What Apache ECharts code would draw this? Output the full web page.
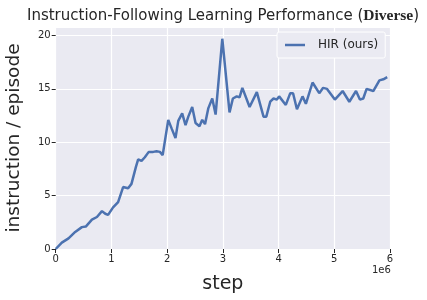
<!DOCTYPE html>
<html>
<head>
<meta charset="utf-8">
<script src="https://cdn.jsdelivr.net/npm/echarts@6/dist/echarts.min.js"></script>
<style>html,body{margin:0;padding:0;background:#fff}#c{width:427px;height:300px}</style>
</head>
<body>
<div id="c"></div>
<script>
// steps in millions
const stepsM = [0.00,0.11,0.23,0.35,0.47,0.54,0.65,0.74,0.83,0.89,0.94,1.03,1.12,1.21,1.30,1.36,1.44,1.48,1.54,1.60,1.67,1.75,1.81,1.87,1.92,2.02,2.08,2.15,2.20,2.27,2.33,2.38,2.45,2.51,2.58,2.63,2.68,2.74,2.81,2.87,2.99,3.12,3.18,3.25,3.30,3.35,3.48,3.61,3.73,3.78,3.85,3.91,3.97,4.01,4.13,4.21,4.26,4.33,4.43,4.49,4.61,4.73,4.80,4.87,5.01,5.15,5.27,5.39,5.46,5.52,5.58,5.70,5.81,5.88,5.95];
const hirValues = [0.0,0.6,1.0,1.6,2.05,2.1,2.75,3.0,3.55,3.3,3.2,3.9,4.4,5.8,5.7,6.1,7.7,8.4,8.25,8.6,9.1,9.1,9.15,9.1,8.8,12.1,11.3,10.4,12.0,12.7,11.6,12.4,13.3,11.8,11.5,12.1,11.7,13.2,14.1,12.6,19.7,12.8,14.1,14.3,14.2,15.1,13.3,14.7,12.4,12.4,13.8,14.1,14.0,14.3,13.5,14.6,14.6,13.1,14.3,13.6,15.6,14.6,15.1,15.0,14.0,14.8,13.8,14.8,14.0,14.1,15.0,14.8,15.8,15.9,16.1];
const xTicks = [0,1,2,3,4,5,6];
const yTicks = [0,5,10,15,20];
const seriesName = 'HIR (ours)';
const titleMain = 'Instruction-Following Learning Performance (';
const titleBold = 'Diverse';
const xLabel = 'step';
const yLabel = 'instruction / episode';
const xOffsetText = '1e6';

const chart = echarts.init(document.getElementById('c'), null, {renderer:'canvas'});
const data = stepsM.map((s,i)=>[s*1e6, hirValues[i]]);
const txt = '#262626';
chart.setOption({
  animation:false,
  backgroundColor:'#ffffff',
  grid:{left:55.7,right:37,top:27,bottom:51,show:true,backgroundColor:'#EAEAF2',borderWidth:0,containLabel:false,outerBoundsMode:'none'},
  legend:{
    data:[seriesName], left:277, top:32, orient:'horizontal', icon:'rect',
    padding:[7,7,7,8], itemWidth:20, itemHeight:2.5, itemGap:10,
    backgroundColor:'#EAEAF2', borderColor:'#ffffff', borderWidth:1, borderRadius:2,
    textStyle:{fontFamily:'DejaVu Sans',fontSize:12,color:txt,padding:[0,0,0,8]}
  },
  xAxis:{
    type:'value', min:xTicks[0]*1e6, max:xTicks[xTicks.length-1]*1e6, interval:1e6,
    name:xLabel, nameLocation:'middle', nameGap:26,
    nameTextStyle:{fontFamily:'DejaVu Sans',fontSize:19,color:txt},
    axisLine:{show:false},
    axisTick:{show:true,length:4,lineStyle:{color:txt,width:1}},
    axisLabel:{fontFamily:'DejaVu Sans',fontSize:10,color:txt,margin:5,formatter:v=>String(v/1e6)},
    splitLine:{show:true,lineStyle:{color:'#ffffff',width:1.2}}
  },
  yAxis:{
    type:'value', min:0, max:20.8, interval:5,
    name:yLabel, nameLocation:'middle', nameGap:32,
    nameTextStyle:{fontFamily:'DejaVu Sans',fontSize:18.5,color:txt},
    axisLine:{show:false},
    axisTick:{show:true,length:4,lineStyle:{color:txt,width:1}},
    axisLabel:{fontFamily:'DejaVu Sans',fontSize:10,color:txt,margin:5,showMaxLabel:false,
      formatter:v=>(yTicks.indexOf(v)>=0?String(v):'')},
    splitLine:{show:true,lineStyle:{color:'#ffffff',width:1.2}}
  },
  graphic:[
    {type:'text',x:223,y:16,style:{
      text:'{a|'+titleMain+'}{b|'+titleBold+'}{a|)}',
      align:'center',verticalAlign:'middle',
      rich:{
        a:{fontFamily:'DejaVu Sans',fontWeight:'normal',fontSize:15,fill:txt},
        b:{fontFamily:'Liberation Serif',fontWeight:'bold',fontSize:15.5,fill:txt}
      }}},
    {type:'text',left:372,top:265,style:{text:xOffsetText,font:'10px "DejaVu Sans"',fill:txt}}
  ],
  series:[{
    name:seriesName, type:'line', data:data, symbol:'none', smooth:false,
    lineStyle:{color:'#4C72B0',width:2.5}, itemStyle:{color:'#4C72B0'}
  }]
});
</script>
</body>
</html>
